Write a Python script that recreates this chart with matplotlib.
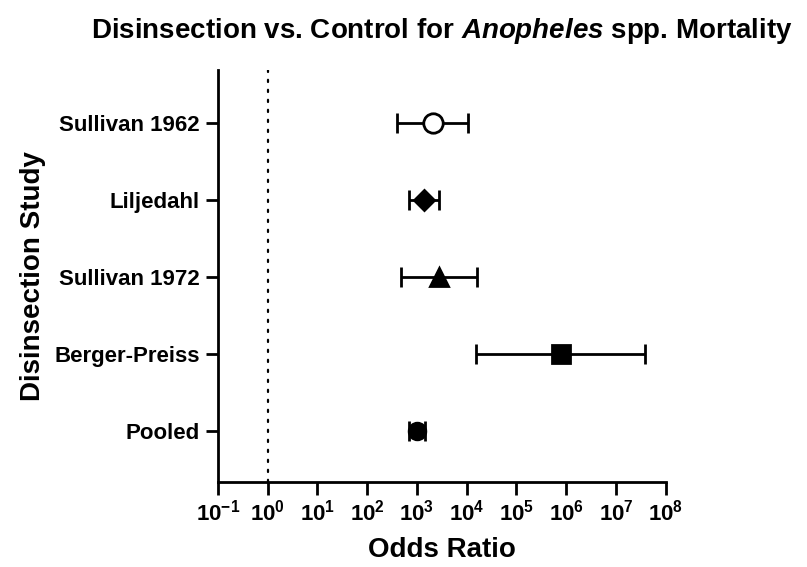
import numpy as np
import matplotlib
matplotlib.use('Agg')
import matplotlib.pyplot as plt

plt.rcParams['font.family'] = ['Liberation Sans', 'DejaVu Sans']
plt.rcParams['font.weight'] = 'bold'
plt.rcParams['mathtext.fontset'] = 'custom'
plt.rcParams['mathtext.rm'] = 'Liberation Sans:bold'
plt.rcParams['mathtext.bf'] = 'Liberation Sans:bold'
plt.rcParams['mathtext.it'] = 'Liberation Sans:italic:bold'
plt.rcParams['axes.unicode_minus'] = False

# studies, top to bottom
studies = ['Sullivan 1962', 'Liljedahl', 'Sullivan 1972', 'Berger-Preiss', 'Pooled']
odds = [2070, 1410, 2800, 780000, 980]
ci_low = [400, 680, 480, 15600, 700]
ci_high = [10700, 2800, 16200, 39000000, 1420]
markers = ['o', 'D', '^', 's', 'o']
msizes = [14, 10, 13, 13, 12]
filled = [False, True, True, True, True]

decades = np.arange(-1, 9)

fig = plt.figure(figsize=(8.07, 5.67), dpi=100)
ax = fig.add_axes([0.270, 0.150, 0.555, 0.727])

ypos = np.arange(len(studies))[::-1] + 1
for i in range(len(studies)):
    xerr = [[odds[i] - ci_low[i]], [ci_high[i] - odds[i]]]
    ax.errorbar(odds[i], ypos[i], xerr=xerr, fmt='none', ecolor='k',
                elinewidth=2, capsize=7, capthick=2, zorder=2)
    ax.plot(odds[i], ypos[i], marker=markers[i], ms=msizes[i],
            mfc='k' if filled[i] else 'white', mec='k', mew=2,
            linestyle='none', zorder=3)

ax.axvline(1, color='k', linestyle=(0, (1, 3.5)), lw=1.6, zorder=1,
           dash_capstyle='round')

ax.set_xscale('log')
ax.set_xlim(10.0**-1, 10.0**8)
ax.set_ylim(0.33, 5.7)
ax.set_xticks(10.0**decades)
ax.set_xticklabels([r'$\mathregular{10^{%d}}$' % d for d in decades])
ax.xaxis.set_minor_locator(matplotlib.ticker.NullLocator())
ax.set_yticks(ypos)
ax.set_yticklabels(studies)

ax.spines['top'].set_visible(False)
ax.spines['right'].set_visible(False)
for s in ['left', 'bottom']:
    ax.spines[s].set_linewidth(2)
ax.tick_params(axis='both', length=9, width=2, labelsize=16, pad=4)

ax.set_xlabel('Odds Ratio', fontsize=20, fontweight='bold', labelpad=8)
ax.set_ylabel('Disinsection Study', fontsize=20, fontweight='bold', labelpad=6)
ax.set_title(r'Disinsection vs. Control for $\mathit{Anopheles}$ spp. Mortality',
             fontsize=20, fontweight='bold', pad=23)

fig.savefig('out.png', dpi=100)
